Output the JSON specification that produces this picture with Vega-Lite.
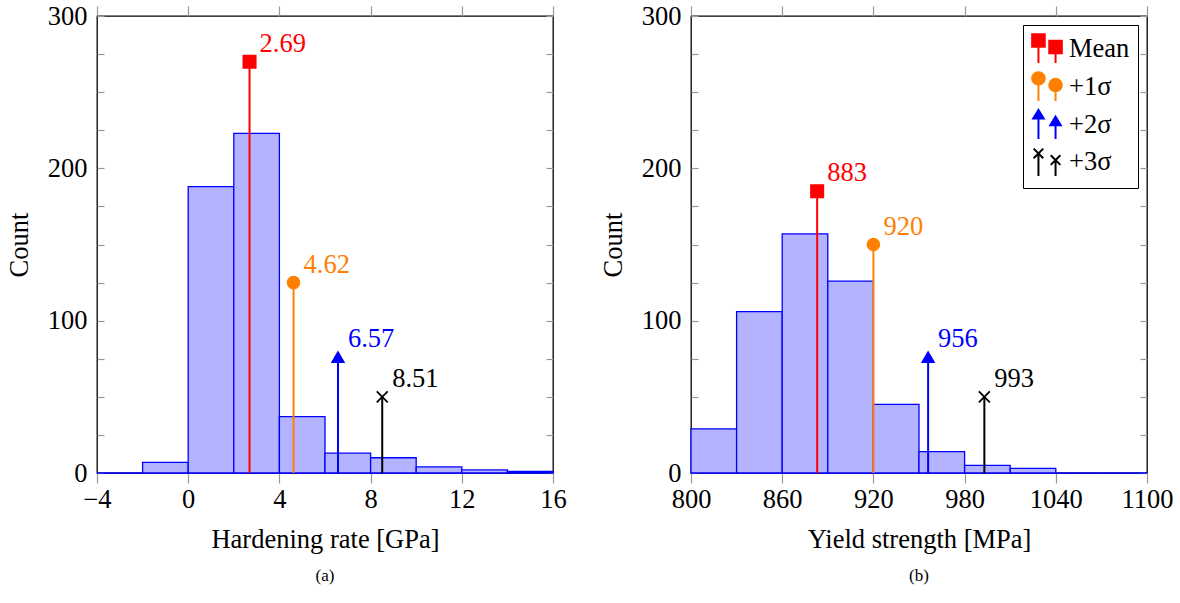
{
  "$schema": "https://vega.github.io/schema/vega-lite/v6.json",
  "background": "white",
  "padding": {"top": 2, "left": 5, "right": 0, "bottom": 0},
  "datasets": {
    "hr_bins": [
      {"start": -4, "end": -2, "count": 0},
      {"start": -2, "end": 0, "count": 7},
      {"start": 0, "end": 2, "count": 188},
      {"start": 2, "end": 4, "count": 223},
      {"start": 4, "end": 6, "count": 37},
      {"start": 6, "end": 8, "count": 13},
      {"start": 8, "end": 10, "count": 10},
      {"start": 10, "end": 12, "count": 4},
      {"start": 12, "end": 14, "count": 2},
      {"start": 14, "end": 16, "count": 1}
    ],
    "hr_markers": [
      {"series": "Mean", "value": 2.69, "height": 270, "label": "2.69"},
      {"series": "+1σ", "value": 4.62, "height": 125, "label": "4.62"},
      {"series": "+2σ", "value": 6.57, "height": 76, "label": "6.57"},
      {"series": "+3σ", "value": 8.51, "height": 50, "label": "8.51"}
    ],
    "ys_bins": [
      {"start": 800, "end": 830, "count": 29},
      {"start": 830, "end": 860, "count": 106},
      {"start": 860, "end": 890, "count": 157},
      {"start": 890, "end": 920, "count": 126},
      {"start": 920, "end": 950, "count": 45},
      {"start": 950, "end": 980, "count": 14},
      {"start": 980, "end": 1010, "count": 5},
      {"start": 1010, "end": 1040, "count": 3},
      {"start": 1040, "end": 1070, "count": 0},
      {"start": 1070, "end": 1100, "count": 0}
    ],
    "ys_markers": [
      {"series": "Mean", "value": 883, "height": 185, "label": "883"},
      {"series": "+1σ", "value": 920, "height": 150, "label": "920"},
      {"series": "+2σ", "value": 956, "height": 76, "label": "956"},
      {"series": "+3σ", "value": 993, "height": 50, "label": "993"}
    ]
  },
  "spacing": 32,
  "resolve": {
    "scale": {"color": "independent", "shape": "independent", "size": "independent", "stroke": "independent", "fill": "independent"},
    "legend": {"color": "independent", "shape": "independent", "size": "independent", "stroke": "independent", "fill": "independent"}
  },
  "hconcat": [
    {
      "width": 456,
      "height": 457,
      "title": {"text": "(a)", "orient": "bottom", "anchor": "middle", "fontSize": 17, "font": "Liberation Serif", "fontWeight": "normal", "color": "#000", "offset": 15},
      "resolve": {"axis": {"x": "independent", "y": "independent"}},
      "layer": [
        {
          "data": {"name": "hr_bins"},
          "mark": {"type": "rect", "fill": "#b3b3ff", "stroke": "#0000ff", "strokeWidth": 1.3},
          "encoding": {
            "x": {"field": "start", "type": "quantitative", "scale": {"domain": [-4, 16], "nice": false, "zero": false},
                  "axis": {"orient": "bottom", "values": [-4, 0, 4, 8, 12, 16], "title": "Hardening rate [GPa]"}},
            "x2": {"field": "end"},
            "y": {"field": "count", "type": "quantitative", "scale": {"domain": [0, 300], "nice": false},
                  "axis": {"orient": "left", "values": [0, 25, 50, 75, 100, 125, 150, 175, 200, 225, 250, 275, 300], "labelExpr": "datum.value % 100 === 0 ? datum.label : ''", "title": "Count"}},
            "y2": {"datum": 0}
          }
        },
        {
          "data": {"name": "hr_markers"},
          "mark": {"type": "rule", "strokeWidth": 2},
          "encoding": {
            "x": {"field": "value", "type": "quantitative", "axis": {"orient": "top", "values": [-4, 0, 4, 8, 12, 16], "labels": false, "title": null}},
            "y": {"field": "height", "type": "quantitative", "axis": {"orient": "right", "values": [0, 25, 50, 75, 100, 125, 150, 175, 200, 225, 250, 275, 300], "labels": false, "title": null}},
            "y2": {"datum": 0},
            "color": {"field": "series", "type": "nominal", "scale": {"domain": ["Mean", "+1σ", "+2σ", "+3σ"], "range": ["#ff0000", "#ff8000", "#0000ff", "#000000"]}, "legend": null}
          }
        },
        {
          "data": {"name": "hr_markers"},
          "mark": {"type": "point", "filled": true, "opacity": 1, "strokeWidth": 1.8},
          "encoding": {
            "x": {"field": "value", "type": "quantitative", "axis": null},
            "y": {"field": "height", "type": "quantitative", "axis": null},
            "color": {"field": "series", "type": "nominal", "legend": null},
            "stroke": {"field": "series", "type": "nominal", "scale": {"domain": ["Mean", "+1σ", "+2σ", "+3σ"], "range": ["#ff0000", "#ff8000", "#0000ff", "#000000"]}, "legend": null},
            "shape": {"field": "series", "type": "nominal", "scale": {"domain": ["Mean", "+1σ", "+2σ", "+3σ"], "range": ["square", "circle", "triangle-up", "M-1,-1L1,1M-1,1L1,-1"]}, "legend": null},
            "size": {"field": "series", "type": "ordinal", "scale": {"domain": ["Mean", "+1σ", "+2σ", "+3σ"], "range": [150, 120, 150, 110]}, "legend": null}
          }
        },
        {
          "data": {"name": "hr_markers"},
          "mark": {"type": "text", "align": "left", "baseline": "middle", "dx": 10, "dy": -18, "font": "Liberation Serif", "fontSize": 26.5},
          "encoding": {
            "x": {"field": "value", "type": "quantitative", "axis": null},
            "y": {"field": "height", "type": "quantitative", "axis": null},
            "text": {"field": "label"},
            "color": {"field": "series", "type": "nominal", "legend": null}
          }
        }
      ]
    },
    {
      "width": 456,
      "height": 457,
      "title": {"text": "(b)", "orient": "bottom", "anchor": "middle", "fontSize": 17, "font": "Liberation Serif", "fontWeight": "normal", "color": "#000", "offset": 15},
      "resolve": {
        "axis": {"x": "independent", "y": "independent"},
        "scale": {"shape": "independent", "size": "independent", "stroke": "independent", "fill": "independent"}
      },
      "layer": [
        {
          "data": {"name": "ys_bins"},
          "mark": {"type": "rect", "fill": "#b3b3ff", "stroke": "#0000ff", "strokeWidth": 1.3},
          "encoding": {
            "x": {"field": "start", "type": "quantitative", "scale": {"domain": [800, 1100], "nice": false, "zero": false},
                  "axis": {"orient": "bottom", "values": [800, 860, 920, 980, 1040, 1100], "format": "d", "title": "Yield strength [MPa]"}},
            "x2": {"field": "end"},
            "y": {"field": "count", "type": "quantitative", "scale": {"domain": [0, 300], "nice": false},
                  "axis": {"orient": "left", "values": [0, 25, 50, 75, 100, 125, 150, 175, 200, 225, 250, 275, 300], "labelExpr": "datum.value % 100 === 0 ? datum.label : ''", "title": "Count"}},
            "y2": {"datum": 0}
          }
        },
        {
          "data": {"name": "ys_markers"},
          "mark": {"type": "rule", "strokeWidth": 2},
          "encoding": {
            "x": {"field": "value", "type": "quantitative", "axis": {"orient": "top", "values": [800, 860, 920, 980, 1040, 1100], "labels": false, "title": null}},
            "y": {"field": "height", "type": "quantitative", "axis": {"orient": "right", "values": [0, 25, 50, 75, 100, 125, 150, 175, 200, 225, 250, 275, 300], "labels": false, "title": null}},
            "y2": {"datum": 0},
            "color": {"field": "series", "type": "nominal", "scale": {"domain": ["Mean", "+1σ", "+2σ", "+3σ"], "range": ["#ff0000", "#ff8000", "#0000ff", "#000000"]}, "legend": null}
          }
        },
        {
          "data": {"name": "ys_markers"},
          "mark": {"type": "point", "filled": true, "opacity": 1, "strokeWidth": 1.8},
          "encoding": {
            "x": {"field": "value", "type": "quantitative", "axis": null},
            "y": {"field": "height", "type": "quantitative", "axis": null},
            "color": {"field": "series", "type": "nominal", "legend": null},
            "stroke": {"field": "series", "type": "nominal", "scale": {"domain": ["Mean", "+1σ", "+2σ", "+3σ"], "range": ["#ff0000", "#ff8000", "#0000ff", "#000000"]}, "legend": null},
            "shape": {"field": "series", "type": "nominal", "scale": {"domain": ["Mean", "+1σ", "+2σ", "+3σ"], "range": ["square", "circle", "triangle-up", "M-1,-1L1,1M-1,1L1,-1"]}, "legend": null},
            "size": {"field": "series", "type": "ordinal", "scale": {"domain": ["Mean", "+1σ", "+2σ", "+3σ"], "range": [150, 120, 150, 110]}, "legend": null}
          }
        },
        {
          "data": {"name": "ys_markers"},
          "mark": {"type": "text", "align": "left", "baseline": "middle", "dx": 10, "dy": -18, "font": "Liberation Serif", "fontSize": 26.5},
          "encoding": {
            "x": {"field": "value", "type": "quantitative", "axis": null},
            "y": {"field": "height", "type": "quantitative", "axis": null},
            "text": {"field": "label"},
            "color": {"field": "series", "type": "nominal", "legend": null}
          }
        },
        {
          "data": {"name": "ys_markers"},
          "mark": {"type": "point", "filled": true, "opacity": 0, "strokeWidth": 2},
          "encoding": {
            "x": {"field": "value", "type": "quantitative", "axis": null},
            "y": {"field": "height", "type": "quantitative", "axis": null},
            "fill": {"field": "series", "type": "nominal",
              "scale": {"domain": ["Mean", "+1σ", "+2σ", "+3σ"], "range": ["#ff0000", "#ff8000", "#0000ff", "#000000"]},
              "legend": {"title": null, "orient": "top-right", "offset": 9, "padding": 8, "strokeColor": "#000", "fillColor": "#fff", "cornerRadius": 0,
                         "labelFont": "Liberation Serif", "labelFontSize": 26.5, "labelColor": "#000", "labelOffset": 6, "rowPadding": 1,
                         "symbolSize": 900, "symbolStrokeWidth": 2, "symbolOpacity": 1}},
            "stroke": {"field": "series", "type": "nominal",
              "scale": {"domain": ["Mean", "+1σ", "+2σ", "+3σ"], "range": ["#ff0000", "#ff8000", "#0000ff", "#000000"]},
              "legend": {"title": null, "orient": "top-right", "offset": 9, "padding": 8, "strokeColor": "#000", "fillColor": "#fff", "cornerRadius": 0,
                         "labelFont": "Liberation Serif", "labelFontSize": 26.5, "labelColor": "#000", "labelOffset": 6, "rowPadding": 1,
                         "symbolSize": 900, "symbolStrokeWidth": 2, "symbolOpacity": 1}},
            "shape": {"field": "series", "type": "nominal",
              "scale": {"domain": ["Mean", "+1σ", "+2σ", "+3σ"], "range": [
                "M-0.57,-0.57L-0.57,0.93M0.57,-0.13L0.57,0.93M-0.99,-0.99L-0.15,-0.99L-0.15,-0.15L-0.99,-0.15ZM0.15,-0.55L0.99,-0.55L0.99,0.29L0.15,0.29Z",
                "M-0.57,-0.57L-0.57,0.93M0.57,-0.13L0.57,0.93M-0.99,-0.57A0.42,0.42 0 1,0 -0.15,-0.57A0.42,0.42 0 1,0 -0.99,-0.57ZM0.15,-0.13A0.42,0.42 0 1,0 0.99,-0.13A0.42,0.42 0 1,0 0.15,-0.13Z",
                "M-0.57,-0.5L-0.57,0.93M0.57,-0.06L0.57,0.93M-0.57,-1L-0.92,-0.43L-0.22,-0.43ZM0.57,-0.56L0.22,0.01L0.92,0.01Z",
                "M-0.57,-0.57L-0.57,0.93M0.57,-0.13L0.57,0.93M-0.89,-0.89L-0.25,-0.25M-0.89,-0.25L-0.25,-0.89M0.25,-0.45L0.89,0.19M0.25,0.19L0.89,-0.45"
              ]},
              "legend": {"title": null, "orient": "top-right", "offset": 9, "padding": 8, "strokeColor": "#000", "fillColor": "#fff", "cornerRadius": 0,
                         "labelFont": "Liberation Serif", "labelFontSize": 26.5, "labelColor": "#000", "labelOffset": 6, "rowPadding": 1,
                         "symbolSize": 900, "symbolStrokeWidth": 2, "symbolOpacity": 1}}
          }
        }
      ]
    }
  ],
  "config": {
    "view": {"stroke": "#000", "strokeWidth": 1.3},
    "font": "Liberation Serif",
    "axis": {
      "grid": false,
      "domain": false,
      "labelFont": "Liberation Serif",
      "labelFontSize": 26.5,
      "labelColor": "#000",
      "labelFlush": false,
      "labelOverlap": false,
      "titleFont": "Liberation Serif",
      "titleFontSize": 26.5,
      "titleFontWeight": "normal",
      "titleColor": "#000",
      "tickColor": "#999",
      "tickWidth": 1.2
    },
    "axisX": {"tickSize": 10, "labelPadding": 3, "titlePadding": 14},
    "axisY": {"tickSize": -7, "labelPadding": 17, "titlePadding": 14}
  }
}
